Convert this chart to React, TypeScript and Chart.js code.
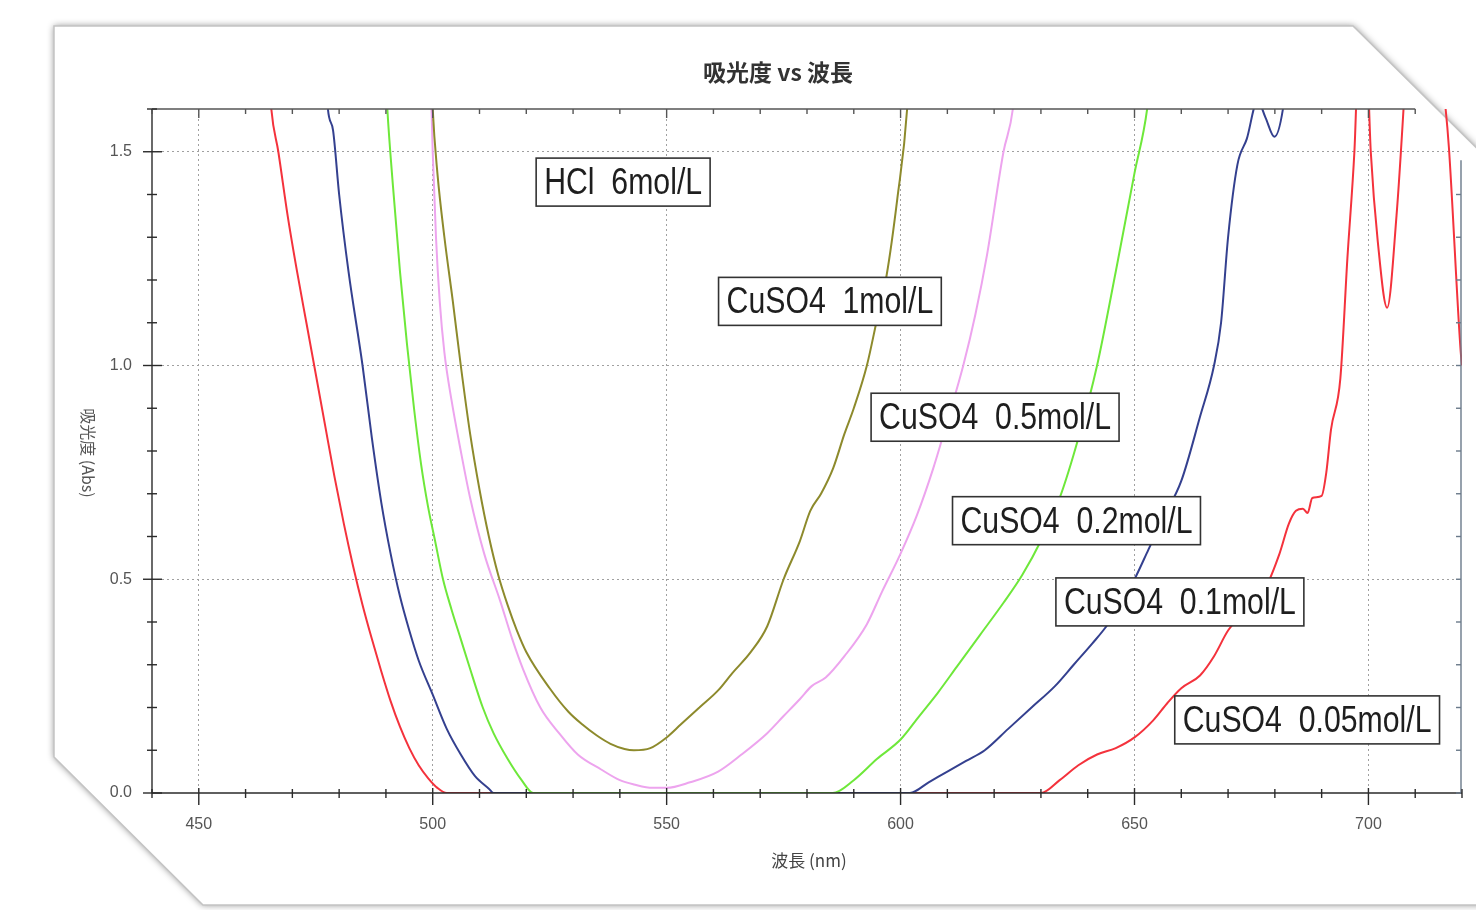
import React, { useEffect, useRef } from 'react';
import { Chart, registerables } from 'chart.js';

Chart.register(...registerables);

// ---- text ----
const chartTitle = '吸光度 vs 波長';
const xTitle = '波長 (nm)';
const yTitle = '吸光度 (Abs)';

// ---- axes ----
const xMin = 440;
const xMax = 720;
const xStep = 10;
const xLabelEvery = 50;
const yMin = 0;
const yMax = 1.6;
const yStep = 0.1;

// ---- series (wavelength nm / absorbance) ----
const cu1Nm = [498, 500, 501, 502.5, 504.3, 506, 508, 510, 512, 514, 516, 518, 520, 525, 529, 532, 535, 538, 541, 543, 546.5, 550, 553, 557, 561, 564, 568, 571.5, 575, 578.5, 580.7, 583, 585.6, 588, 590, 592.8, 595, 597, 599.3, 601.4, 603];
const cu1Abs = [2.2, 1.6, 1.45, 1.3, 1.15, 1.0, 0.84, 0.71, 0.6, 0.51, 0.44, 0.38, 0.33, 0.245, 0.19, 0.16, 0.135, 0.115, 0.103, 0.1, 0.105, 0.13, 0.16, 0.2, 0.24, 0.28, 0.33, 0.39, 0.5, 0.59, 0.66, 0.7, 0.76, 0.84, 0.9, 1.0, 1.11, 1.21, 1.39, 1.6, 1.95];

const cu05Nm = [498.8, 499.5, 500, 500.7, 501.5, 502.5, 504, 506, 508, 511, 514.4, 517, 519.3, 523, 527, 531, 536, 540, 543, 547, 550, 555, 561, 566, 571.5, 575, 578.5, 581, 584, 588, 592.8, 596, 600, 603.5, 607, 610, 613.4, 616, 618.5, 622, 624, 626];
const cu05Abs = [2.0, 1.7, 1.5, 1.3, 1.15, 1.03, 0.92, 0.8, 0.69, 0.56, 0.45, 0.36, 0.29, 0.2, 0.14, 0.09, 0.055, 0.03, 0.02, 0.012, 0.012, 0.025, 0.05, 0.09, 0.14, 0.18, 0.22, 0.25, 0.27, 0.32, 0.395, 0.47, 0.56, 0.65, 0.76, 0.87, 1.0, 1.12, 1.26, 1.5, 1.6, 1.85];

const cu02Nm = [488.5, 490.3, 491.5, 493, 494.5, 496, 497.5, 499, 500.5, 502.2, 504, 506, 508, 510.7, 513, 516, 519, 521.5, 585.5, 590, 595, 600, 604, 608, 612, 617, 622, 626, 630, 634, 638, 642, 646, 650, 652.7, 655];
const cu02Abs = [2.0, 1.6, 1.42, 1.22, 1.05, 0.9, 0.77, 0.67, 0.59, 0.5, 0.43, 0.36, 0.29, 0.2, 0.14, 0.08, 0.03, 0, 0, 0.03, 0.08, 0.125, 0.18, 0.235, 0.295, 0.37, 0.445, 0.51, 0.59, 0.69, 0.83, 1.0, 1.22, 1.45, 1.6, 1.85];

const cu01Nm = [475.5, 477.6, 478.7, 480, 482, 485, 487, 489, 491, 493, 495, 497, 500, 503, 506, 509, 512, 513, 602, 606, 610, 614, 618, 623, 628, 633, 637, 641, 644, 647, 650, 653, 656, 660, 664, 667, 668.5, 670, 672, 674, 676.3, 678, 679.9, 682, 684];
const cu01Abs = [2.0, 1.6, 1.55, 1.4, 1.22, 1.0, 0.83, 0.68, 0.56, 0.46, 0.38, 0.31, 0.23, 0.15, 0.09, 0.04, 0.01, 0, 0, 0.025, 0.05, 0.075, 0.1, 0.15, 0.2, 0.25, 0.3, 0.35, 0.39, 0.44, 0.5, 0.57, 0.64, 0.73, 0.88, 1.0, 1.1, 1.3, 1.47, 1.53, 1.62, 1.58, 1.535, 1.62, 1.85];

const cu005Nm = [462, 465.5, 467, 469, 471, 473, 475, 477, 479, 481, 483, 485, 487, 489, 491, 493, 495, 497, 499, 501, 503, 630, 634, 638, 642, 646, 650, 654, 657, 660, 664, 667, 670, 674, 678, 681, 683, 684.5, 686, 687, 688, 690, 691, 692, 694, 695.5, 697, 698, 699.5, 700.5, 702, 704, 706, 707.5, 709, 712, 716.5, 717.2, 719.7, 720];
const cu005Abs = [2.2, 1.6, 1.5, 1.35, 1.22, 1.1, 0.98, 0.86, 0.74, 0.63, 0.53, 0.44, 0.36, 0.285, 0.215, 0.155, 0.105, 0.065, 0.035, 0.012, 0, 0, 0.03, 0.065, 0.09, 0.105, 0.13, 0.17, 0.21, 0.245, 0.275, 0.32, 0.38, 0.43, 0.48, 0.56, 0.63, 0.66, 0.665, 0.655, 0.69, 0.695, 0.75, 0.85, 0.97, 1.25, 1.5, 1.75, 1.75, 1.5, 1.29, 1.135, 1.35, 1.6, 1.9, 2.0, 1.6, 1.51, 1.035, 1.0];

const seriesNames = ['CuSO4 1mol/L', 'CuSO4 0.5mol/L', 'CuSO4 0.2mol/L', 'CuSO4 0.1mol/L', 'CuSO4 0.05mol/L'];
const seriesColors = ['#8d8a2c', '#eda4ee', '#6ee83a', '#34408f', '#f4323c'];

// ---- annotation boxes (text, anchor in data units) ----
const noteTexts = ['HCl  6mol/L', 'CuSO4  1mol/L', 'CuSO4  0.5mol/L', 'CuSO4  0.2mol/L', 'CuSO4  0.1mol/L', 'CuSO4  0.05mol/L'];
const noteNm = [540.7, 584.9, 620.2, 637.6, 659.7, 686.9];
const noteAbs = [1.429, 1.15, 0.879, 0.637, 0.447, 0.171];

const zip = (xs: number[], ys: number[]) => xs.map((x, i) => ({ x, y: ys[i] }));
const seriesData = [zip(cu1Nm, cu1Abs), zip(cu05Nm, cu05Abs), zip(cu02Nm, cu02Abs), zip(cu01Nm, cu01Abs), zip(cu005Nm, cu005Abs)];

const isXMajor = (v: number) => Math.round(v) % xLabelEvery === 0;
const isYMajor = (v: number) => Math.round(v * 10) % 5 === 0;

const framePlugin = {
  id: 'frame',
  beforeDraw(chart: any) {
    const ctx = chart.ctx;
    ctx.save();
    ctx.fillStyle = '#ffffff';
    ctx.fillRect(0, 0, chart.width, chart.height);
    ctx.beginPath();
    ctx.moveTo(54, 26);
    ctx.lineTo(1353, 26);
    ctx.lineTo(1500, 171);
    ctx.lineTo(1500, 905);
    ctx.lineTo(203, 905);
    ctx.lineTo(54, 757);
    ctx.closePath();
    ctx.shadowColor = 'rgba(0,0,0,0.45)';
    ctx.shadowBlur = 7;
    ctx.fillStyle = '#ffffff';
    ctx.fill();
    ctx.shadowColor = 'transparent';
    ctx.strokeStyle = '#c4c4c4';
    ctx.lineWidth = 1.5;
    ctx.stroke();
    ctx.restore();
  },
};

const overlayPlugin = {
  id: 'overlay',
  afterDatasetsDraw(chart: any) {
    const ctx = chart.ctx;
    const xs = chart.scales.x;
    const ys = chart.scales.y;
    const { left, right, top, bottom } = chart.chartArea;
    ctx.save();
    ctx.strokeStyle = '#2a2a2a';
    ctx.lineWidth = 1.4;
    const line = (x1: number, y1: number, x2: number, y2: number) => {
      ctx.beginPath();
      ctx.moveTo(x1, y1);
      ctx.lineTo(x2, y2);
      ctx.stroke();
    };
    const topEnd = xs.getPixelForValue(710);
    line(left, bottom, right, bottom);
    line(left, top, left, bottom);
    ctx.strokeStyle = '#555';
    line(left, top, topEnd, top);
    ctx.strokeStyle = '#6a7a8a';
    line(right - 1, ys.getPixelForValue(1.48), right - 1, bottom);
    ctx.strokeStyle = '#2a2a2a';
    xs.ticks.forEach((t: any) => {
      const px = xs.getPixelForValue(t.value);
      if (isXMajor(t.value)) line(px, bottom - 5, px, bottom + 12);
      else line(px, bottom - 4, px, bottom + 5);
      if (px <= topEnd) {
        ctx.strokeStyle = '#555';
        line(px, top, px, top + (isXMajor(t.value) ? 9 : 5));
        ctx.strokeStyle = '#2a2a2a';
      }
    });
    ys.ticks.forEach((t: any) => {
      const py = ys.getPixelForValue(t.value);
      if (isYMajor(t.value)) line(left - 9, py, left + 10, py);
      else line(left - 5, py, left + 5, py);
      if (t.value <= 1.45) {
        ctx.strokeStyle = '#6a7a8a';
        line(right - 6, py, right - 1, py);
        ctx.strokeStyle = '#2a2a2a';
      }
    });
    ctx.restore();

    ctx.save();
    const fontPx = 36;
    const squeeze = 0.84;
    ctx.font = `${fontPx}px "Liberation Sans", Arial, sans-serif`;
    noteTexts.forEach((txt, i) => {
      const cx = xs.getPixelForValue(noteNm[i]);
      const cy = ys.getPixelForValue(noteAbs[i]);
      const w = ctx.measureText(txt).width * squeeze + 16;
      const h = 48;
      ctx.fillStyle = '#ffffff';
      ctx.fillRect(cx - w / 2, cy - h / 2, w, h);
      ctx.strokeStyle = '#333';
      ctx.lineWidth = 1.6;
      ctx.strokeRect(cx - w / 2, cy - h / 2, w, h);
      ctx.save();
      ctx.translate(cx, cy + 2);
      ctx.scale(squeeze, 1);
      ctx.fillStyle = '#1e1e1e';
      ctx.textAlign = 'center';
      ctx.textBaseline = 'middle';
      ctx.fillText(txt, 0, 0);
      ctx.restore();
    });
    ctx.restore();
  },
  afterDraw(chart: any) {
    const ctx = chart.ctx;
    const { left, right, top, bottom } = chart.chartArea;
    ctx.save();
    ctx.textAlign = 'center';
    ctx.textBaseline = 'middle';
    ctx.fillStyle = '#333';
    ctx.font = 'bold 23px "Noto Sans CJK JP", sans-serif';
    ctx.fillText(chartTitle, (left + right) / 2 - 29, top - 37);
    ctx.fillStyle = '#444';
    ctx.font = '17px "Noto Sans CJK JP", sans-serif';
    ctx.fillText(xTitle, (left + right) / 2 + 2, bottom + 68);
    ctx.translate(left - 64, (top + bottom) / 2 + 2);
    ctx.rotate(Math.PI / 2);
    ctx.fillStyle = '#555';
    ctx.font = '16px "Noto Sans CJK JP", sans-serif';
    ctx.fillText(yTitle, 0, 0);
    ctx.restore();
  },
};

export default function App() {
  const ref = useRef<HTMLCanvasElement>(null);
  useEffect(() => {
    const tickFont = { family: '"Liberation Sans Narrow", "Liberation Sans", Arial, sans-serif', size: 16 };
    const chart = new Chart(ref.current as HTMLCanvasElement, {
      type: 'line',
      data: {
        datasets: seriesData.map((d, i) => ({
          label: seriesNames[i],
          data: d,
          borderColor: seriesColors[i],
          backgroundColor: seriesColors[i],
          borderWidth: 2,
          pointRadius: 0,
          fill: false,
          cubicInterpolationMode: 'monotone' as const,
        })),
      },
      options: {
        animation: false,
        responsive: true,
        maintainAspectRatio: false,
        layout: { padding: { left: 0, top: 109, right: 14, bottom: 0 } },
        plugins: { legend: { display: false }, tooltip: { enabled: false }, title: { display: false } },
        scales: {
          x: {
            type: 'linear',
            min: xMin,
            max: xMax,
            afterFit: (s: any) => { s.height = 117; },
            ticks: {
              stepSize: xStep,
              autoSkip: false,
              maxRotation: 0,
              padding: 0,
              color: '#555',
              font: tickFont,
              callback: (v: any) => (isXMajor(Number(v)) ? String(Math.round(Number(v))) : ''),
            },
            grid: {
              drawTicks: true,
              tickLength: 22,
              tickColor: 'rgba(0,0,0,0)',
              lineWidth: 1,
              color: (c: any) => (c.tick && isXMajor(c.tick.value) ? '#a0a0a0' : 'rgba(0,0,0,0)'),
            },
            border: { display: false, dash: [2, 3] },
          },
          y: {
            type: 'linear',
            min: yMin,
            max: yMax,
            afterFit: (s: any) => { s.width = 152; },
            ticks: {
              stepSize: yStep,
              autoSkip: false,
              padding: 20,
              color: '#555',
              font: tickFont,
              callback: (v: any) => (isYMajor(Number(v)) ? Number(v).toFixed(1) : ''),
            },
            grid: {
              drawTicks: false,
              lineWidth: 1,
              color: (c: any) => (c.tick && isYMajor(c.tick.value) && c.tick.value > 0 ? '#a0a0a0' : 'rgba(0,0,0,0)'),
            },
            border: { display: false, dash: [2, 3] },
          },
        },
      },
      plugins: [framePlugin, overlayPlugin],
    });
    return () => chart.destroy();
  }, []);
  return (
    <div style={{ position: 'fixed', left: 0, top: 0, width: 1476, height: 910, background: '#fff' }}>
      <canvas ref={ref} />
    </div>
  );
}
